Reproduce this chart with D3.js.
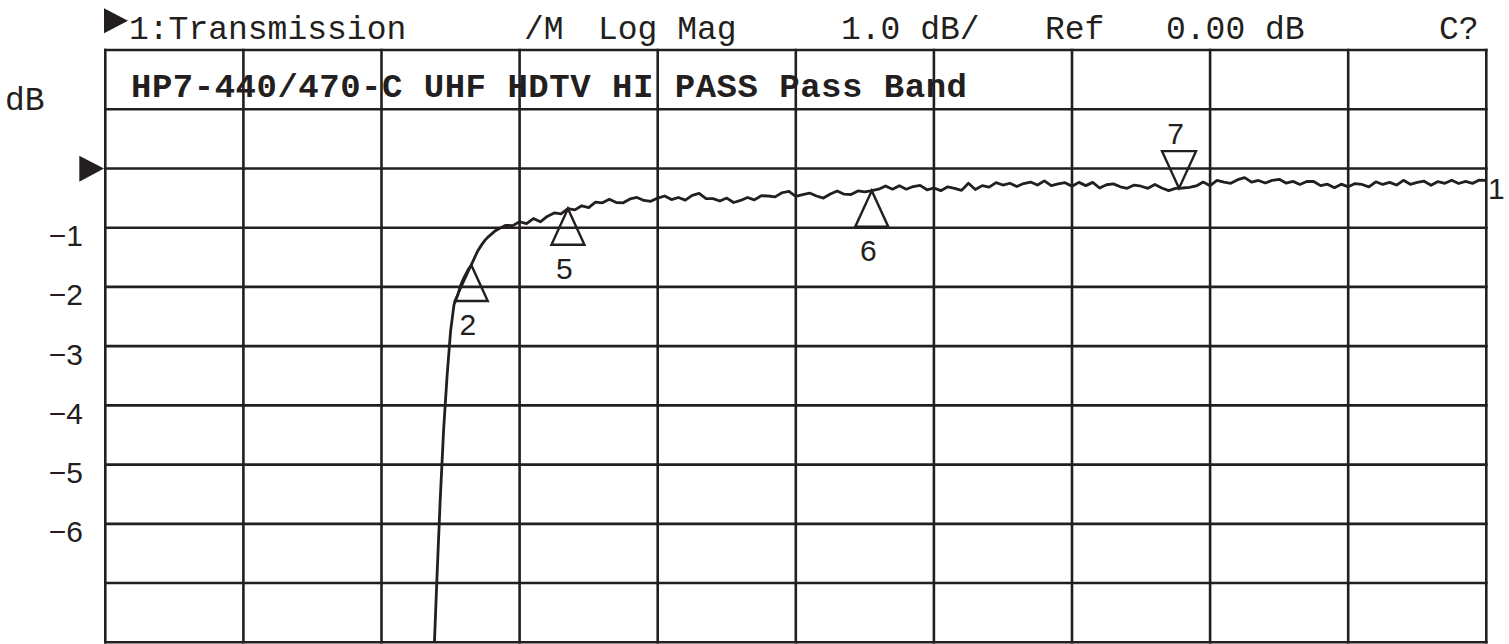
<!DOCTYPE html>
<html>
<head>
<meta charset="utf-8">
<script src="https://cdn.jsdelivr.net/npm/d3@7/dist/d3.min.js"></script>
<style>
  html, body { margin: 0; padding: 0; background: #fff; }
  svg { display: block; }
  .grid line { stroke: #231f20; stroke-width: 2.6; }
  .mono { font-family: "Liberation Mono", "Courier New", monospace; fill: #231f20; }
  .sans { font-family: "Liberation Sans", Arial, sans-serif; fill: #231f20; }
</style>
</head>
<body>
<div id="chart"></div>
<script>
// header texts of the analyzer screen
var headerTokens = ["1:Transmission", "/M", "Log Mag", "1.0 dB/", "Ref", "0.00 dB", "C?"];
var headerX      = [129, 524, 598, 841, 1045, 1166, 1439];
var titleText = "HP7-440/470-C UHF HDTV HI PASS Pass Band";

// y axis (dB), 1 dB / div, ref 0 dB two divisions below the top
var yLabels = [-1, -2, -3, -4, -5, -6];

// trace: 401 point sweep, index -> dB
var steepIdx = [95, 96, 97, 98, 99, 100, 101, 102, 103, 104, 105, 106, 107, 108, 109, 110, 111, 112, 113, 114, 115];
var steepDb  = [-8.5, -7.0, -5.6, -4.4, -3.5, -2.75, -2.3, -2.15, -1.96, -1.83, -1.72, -1.63, -1.50, -1.38, -1.29, -1.21, -1.15, -1.10, -1.05, -1.02, -0.99];

// flat part, every 2nd point from 116 to 400
var flatDb = [
  -0.96, -0.965, -0.90, -0.93, -0.845, -0.90, -0.81, -0.75, -0.765, -0.68,
  -0.70, -0.63, -0.66, -0.57, -0.58, -0.52, -0.575, -0.58, -0.515, -0.49,
  -0.54, -0.555, -0.50, -0.465, -0.525, -0.49, -0.535, -0.455, -0.42, -0.51,
  -0.51, -0.55, -0.50, -0.575, -0.54, -0.49, -0.53, -0.46, -0.465, -0.48,
  -0.41, -0.385, -0.47, -0.44, -0.415, -0.465, -0.50, -0.43, -0.38, -0.435,
  -0.44, -0.38, -0.395, -0.375, -0.35, -0.295, -0.35, -0.29, -0.35, -0.305,
  -0.285, -0.36, -0.33, -0.375, -0.31, -0.335, -0.37, -0.25, -0.355, -0.29,
  -0.315, -0.24, -0.28, -0.25, -0.305, -0.255, -0.23, -0.28, -0.21, -0.29,
  -0.26, -0.24, -0.30, -0.235, -0.29, -0.235, -0.33, -0.275, -0.26, -0.31,
  -0.335, -0.28, -0.30, -0.335, -0.27, -0.33, -0.375, -0.335, -0.33, -0.32,
  -0.295, -0.23, -0.29, -0.20, -0.23, -0.25, -0.19, -0.155, -0.23, -0.203,
  -0.246, -0.20, -0.183, -0.246, -0.218, -0.27, -0.22, -0.22, -0.29, -0.265,
  -0.325, -0.265, -0.31, -0.255, -0.27, -0.31, -0.225, -0.27, -0.235, -0.28,
  -0.20, -0.268, -0.236, -0.215, -0.284, -0.222, -0.251, -0.20, -0.254, -0.218,
  -0.252, -0.196, -0.20
];

// markers
var markerIdx   = [106, 134, 222, 311];
var markerLabel = ["2", "5", "6", "7"];
var markerDown  = [false, false, false, true];

var W = 1509, H = 644;
var plot = {left: 105.3, right: 1486.3, top: 50, bottom: 642.3};

var x = d3.scaleLinear().domain([0, 400]).range([plot.left, plot.right]);
var y = d3.scaleLinear().domain([-8, 2]).range([plot.bottom, plot.top]);

var trace = [];
steepIdx.forEach(function(d, i) { trace.push({i: d, v: steepDb[i]}); });
flatDb.forEach(function(v, k) { trace.push({i: 116 + 2 * k, v: v}); });
var traceAt = function(idx) {
  var p = trace.find(function(d) { return d.i === idx; });
  if (p) return p.v;
  var a = trace.filter(function(d) { return d.i < idx; }).pop();
  var b = trace.find(function(d) { return d.i > idx; });
  return a.v + (b.v - a.v) * (idx - a.i) / (b.i - a.i);
};

var svg = d3.select("#chart").append("svg")
    .attr("width", W)
    .attr("height", H);

svg.append("rect").attr("width", W).attr("height", H).attr("fill", "#fff");

// grid
var grid = svg.append("g").attr("class", "grid");
grid.selectAll(".v")
  .data(d3.range(0, 401, 40))
  .enter().append("line")
    .attr("x1", function(d) { return x(d); })
    .attr("x2", function(d) { return x(d); })
    .attr("y1", plot.top - 1.3)
    .attr("y2", plot.bottom + 1.3);
grid.selectAll(".h")
  .data(d3.range(-8, 2.5, 1))
  .enter().append("line")
    .attr("x1", plot.left - 1.3)
    .attr("x2", plot.right + 1.3)
    .attr("y1", function(d) { return y(d); })
    .attr("y2", function(d) { return y(d); });

// header
svg.selectAll(".hdr")
  .data(headerTokens)
  .enter().append("text")
    .attr("class", "mono")
    .attr("x", function(d, i) { return headerX[i]; })
    .attr("y", 39)
    .style("font-size", "33px")
    .text(function(d) { return d; });

svg.append("path")
  .attr("d", "M104,8.3 L128,20.8 L104,33.3 Z")
  .attr("fill", "#231f20");

// title inside the graticule
svg.append("text")
  .attr("class", "mono")
  .attr("x", 131)
  .attr("y", 96.5)
  .attr("textLength", 836)
  .attr("lengthAdjust", "spacing")
  .style("font-size", "34px")
  .style("font-weight", "bold")
  .text(titleText);

// y labels
svg.append("text")
  .attr("class", "mono")
  .attr("x", 5)
  .attr("y", 110)
  .style("font-size", "33px")
  .text("dB");

svg.selectAll(".ylab")
  .data(yLabels)
  .enter().append("text")
    .attr("class", "sans")
    .attr("x", 83)
    .attr("y", function(d) { return y(d) + 18.5; })
    .attr("text-anchor", "end")
    .style("font-size", "30px")
    .text(function(d) { return "\u2212" + Math.abs(d); });

// reference position arrow
svg.append("path")
  .attr("d", "M79.3," + (y(0) - 12.7) + " L104," + y(0) + " L79.3," + (y(0) + 13.2) + " Z")
  .attr("fill", "#231f20");

// trace
svg.append("clipPath").attr("id", "clip")
  .append("rect")
    .attr("x", plot.left).attr("y", plot.top)
    .attr("width", plot.right - plot.left).attr("height", plot.bottom - plot.top);

var line = d3.line()
  .x(function(d) { return x(d.i); })
  .y(function(d) { return y(d.v); });

svg.append("path")
  .datum(trace)
  .attr("clip-path", "url(#clip)")
  .attr("d", line)
  .attr("fill", "none")
  .attr("stroke", "#231f20")
  .attr("stroke-width", 2.8)
  .attr("stroke-linejoin", "round");

// trace number at the end
svg.append("text")
  .attr("class", "sans")
  .attr("x", 1488)
  .attr("y", y(traceAt(400)) + 18.5)
  .style("font-size", "30px")
  .text("1");

// markers
var mk = svg.selectAll(".marker")
  .data(markerIdx)
  .enter().append("g")
    .attr("class", "marker")
    .attr("transform", function(d) {
      return "translate(" + x(d) + "," + y(traceAt(d)) + ")";
    });

mk.append("path")
  .attr("d", function(d, i) {
    return markerDown[i] ? "M0,0 L-17,-37 L17,-37 Z" : "M0,0 L-16.5,36 L16.5,36 Z";
  })
  .attr("fill", "none")
  .attr("stroke", "#231f20")
  .attr("stroke-width", 2.4)
  .attr("stroke-linejoin", "miter");

mk.append("text")
  .attr("class", "sans")
  .attr("x", -3.5)
  .attr("y", function(d, i) { return markerDown[i] ? -44 : 70; })
  .attr("text-anchor", "middle")
  .style("font-size", "30px")
  .text(function(d, i) { return markerLabel[i]; });
</script>
</body>
</html>
